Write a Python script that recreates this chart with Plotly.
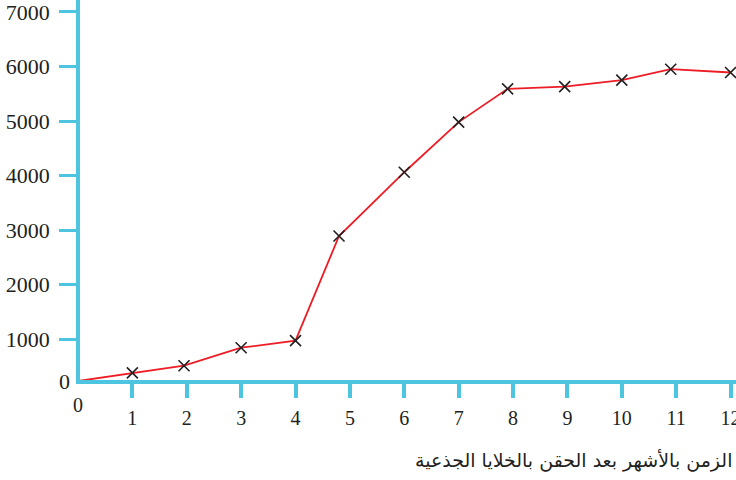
import plotly.graph_objects as go

# months after injection and measured value
MONTHS = [0, 1, 1.95, 3, 4, 4.8, 6, 7, 7.9, 8.95, 10, 10.9, 12]
VALUES = [229, 380, 510, 840, 970, 2890, 4060, 4980, 5590, 5630, 5750, 5950, 5890]

X_TICKS = list(range(1, 13))
Y_TICKS = [1000, 2000, 3000, 4000, 5000, 6000, 7000]

X_TITLE = "الزمن بالأشهر بعد الحقن بالخلايا الجذعية"

AXIS_COLOR = "#4dc4e0"
LINE_COLOR = "#ee1c25"
TEXT_COLOR = "#231f20"
NUM_FONT = "Liberation Serif, Times New Roman, serif"

fig = go.Figure()

fig.add_trace(
    go.Scatter(
        x=MONTHS,
        y=VALUES,
        mode="lines+markers",
        line=dict(color=LINE_COLOR, width=1.8),
        marker=dict(symbol="x-thin", size=11,
                    line=dict(color=TEXT_COLOR, width=1.6)),
        cliponaxis=False,
        showlegend=False,
    )
)

fig.update_layout(
    width=736,
    height=480,
    margin=dict(l=80, r=0, t=0, b=100),
    paper_bgcolor="white",
    plot_bgcolor="white",
    xaxis=dict(
        range=[0.037, 12.1],
        tickmode="array",
        tickvals=X_TICKS,
        ticktext=[str(v) for v in X_TICKS],
        showline=True,
        linecolor=AXIS_COLOR,
        linewidth=3.5,
        ticks="outside",
        ticklen=14,
        tickwidth=3.5,
        tickcolor=AXIS_COLOR,
        ticklabelstandoff=3,
        ticklabeloverflow="allow",
        automargin=False,
        showgrid=False,
        zeroline=False,
        tickfont=dict(family=NUM_FONT, size=20, color=TEXT_COLOR),
    ),
    yaxis=dict(
        range=[248, 7220],
        tickmode="array",
        tickvals=Y_TICKS,
        ticktext=[str(v) for v in Y_TICKS],
        showline=True,
        linecolor=AXIS_COLOR,
        linewidth=3.5,
        ticks="outside",
        ticklen=17,
        tickwidth=3,
        tickcolor=AXIS_COLOR,
        ticklabelstandoff=5,
        ticklabeloverflow="allow",
        automargin=False,
        showgrid=False,
        zeroline=False,
        tickfont=dict(family=NUM_FONT, size=22, color=TEXT_COLOR),
    ),
    annotations=[
        # origin labels
        dict(x=-0.003, y=-0.066, xref="paper", yref="paper", text="0", showarrow=False,
             xanchor="center", yanchor="middle",
             font=dict(family=NUM_FONT, size=20, color=TEXT_COLOR)),
        dict(x=-0.012, y=-0.003, xref="paper", yref="paper", text="0", showarrow=False,
             xanchor="right", yanchor="middle",
             font=dict(family=NUM_FONT, size=22, color=TEXT_COLOR)),
        dict(x=0.997, y=-0.213, xref="paper", yref="paper", text=X_TITLE,
             showarrow=False, xanchor="right", yanchor="middle",
             font=dict(family="DejaVu Serif, DejaVu Sans", size=19, color=TEXT_COLOR)),
    ],
)

# drop the browser's default 8px body margin so the figure fills the window
fig.write_html(
    "out.html",
    config={"displayModeBar": False},
    post_script="document.body.style.margin = '0';",
)
